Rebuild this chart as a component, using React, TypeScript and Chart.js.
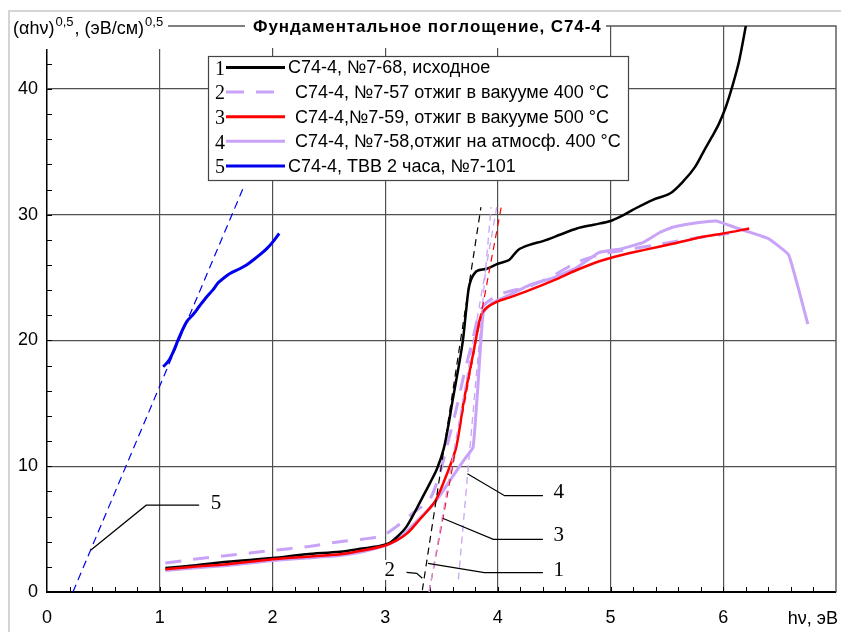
import React, { useEffect, useRef } from 'react';
import { Chart, registerables } from 'chart.js';
Chart.register(...registerables);

// ---- data ----
const c1X = [1.05,1.3,1.6,2.0,2.3,2.6,2.8,2.95,3.04,3.12,3.19,3.26,3.33,3.4,3.46,3.52,3.56,3.6,3.65,3.69,3.72,3.75,3.81,3.9,4.0,4.1,4.18,4.28,4.4,4.55,4.7,4.85,5.0,5.1,5.2,5.38,5.53,5.65,5.75,5.83,5.9,5.96,6.02,6.08,6.14,6.2];
const c1Y = [1.9,2.1,2.4,2.7,3.0,3.2,3.45,3.65,3.9,4.5,5.2,6.3,7.5,8.7,9.8,11.4,13.2,15.3,17.8,20.0,22.5,24.5,25.5,25.7,26.1,26.4,27.2,27.6,27.9,28.4,28.9,29.2,29.5,29.9,30.4,31.2,31.7,32.7,33.8,35.1,36.2,37.2,38.5,40.2,42.2,45];

const c2X = [1.05,1.3,1.6,2.0,2.3,2.6,2.8,2.98,3.1,3.25,3.39,3.47,3.54,3.63,3.7,3.77,3.84,3.9,4.0,4.1,4.28,4.5,4.7,4.9,5.0,5.2,5.4,5.6,5.8,6.05];
const c2Y = [2.3,2.6,2.9,3.3,3.6,4.0,4.2,4.5,5.2,6.3,7.3,9.0,11.3,14.5,17.3,19.8,22.3,23.0,23.6,23.9,24.3,25.2,26.2,26.8,27.0,27.3,27.6,27.9,28.2,28.5];

const c3X = [1.05,1.3,1.6,2.0,2.3,2.6,2.8,3.0,3.1,3.2,3.3,3.38,3.45,3.54,3.63,3.7,3.78,3.85,3.9,4.0,4.1,4.28,4.5,4.7,4.9,5.1,5.3,5.56,5.8,6.0,6.23];
const c3Y = [1.8,2.0,2.2,2.6,2.8,3.0,3.3,3.7,4.1,4.7,5.7,6.5,7.3,9.2,11.5,15.3,18.9,22.0,22.6,23.1,23.4,24.0,24.8,25.6,26.3,26.8,27.2,27.7,28.2,28.5,28.9];

const c4X = [1.05,1.3,1.6,2.0,2.3,2.6,2.8,3.0,3.1,3.2,3.3,3.4,3.48,3.6,3.7,3.78,3.82,3.87,3.95,4.1,4.28,4.5,4.7,4.9,5.1,5.29,5.44,5.55,5.8,5.94,6.1,6.4,6.58,6.75];
const c4Y = [1.7,1.9,2.1,2.5,2.7,2.9,3.2,3.7,4.1,4.9,5.8,6.7,7.6,9.2,10.5,11.5,16.0,22.2,23.0,23.6,24.4,25.0,25.8,27.0,27.3,27.8,28.6,29.0,29.4,29.5,29.0,28.1,26.8,21.3];

const c5X = [1.03,1.08,1.12,1.18,1.24,1.3,1.35,1.41,1.47,1.52,1.56,1.62,1.71,1.77,1.83,1.9,1.95,2.0,2.06];
const c5Y = [17.9,18.4,19.1,20.4,21.5,22.1,22.7,23.4,24.0,24.6,24.9,25.3,25.7,26.0,26.4,26.9,27.3,27.8,28.5];

// tangent (extrapolation) lines: [x0, y0, x1, y1]
const t1 = [3.33, 0.15, 3.85, 30.6];
const t2 = [3.39, 0, 3.99, 30.6];
const t3 = [3.39, 0, 4.03, 30.6];
const t4 = [3.65, 1.0, 3.94, 30.6];
const t5 = [0.23, 0, 1.74, 32.1];

// callouts: polyline points (x,y pairs) + label position
const callNames = ['5', '4', '3', '1', '2'];
const callLines = [
  [0.39, 3.34, 0.88, 6.9, 1.35, 6.9],
  [3.73, 9.4, 4.06, 7.66, 4.40, 7.66],
  [3.51, 5.86, 3.96, 4.19, 4.40, 4.19],
  [3.38, 2.28, 3.88, 1.54, 4.40, 1.54],
  [3.19, 1.56, 3.28, 1.48, 3.33, 1.09],
];
const callLabelX = [1.5, 4.54, 4.54, 4.54, 3.04];
const callLabelY = [7.0, 7.9, 4.5, 1.75, 1.75];

const legendNums = ['1', '2', '3', '4', '5'];
const legendTexts = [
  'С74-4, №7-68, исходное',
  'С74-4, №7-57 отжиг в вакууме 400 °C',
  'С74-4,№7-59, отжиг в вакууме 500 °C',
  'С74-4, №7-58,отжиг на атмосф. 400 °C',
  'С74-4, ТВВ 2 часа, №7-101',
];
const xTickValues = [0, 1, 2, 3, 4, 5, 6];
const titleText = 'Фундаментальное поглощение, С74-4';
const xTitle = 'hν, эВ';

const BLACK = '#000000';
const LILAC = '#c9a3f7';
const RED = '#ff0000';
const BLUE = '#0000ee';
const legendColors = [BLACK, LILAC, RED, LILAC, BLUE];
const legendDash = [[], [18, 12], [], [], []];

const pts = (xs: number[], ys: number[]) => xs.map((x, i) => ({ x, y: ys[i] }));
const seg = (t: number[]) => [{ x: t[0], y: t[1] }, { x: t[2], y: t[3] }];

const SANS = '"Liberation Sans", Arial, sans-serif';
const SERIF = '"Liberation Serif", "Times New Roman", serif';

const decor = {
  id: 'decor',
  beforeDraw(chart: any) {
    const ctx = chart.ctx;
    ctx.save();
    ctx.fillStyle = '#fff';
    ctx.fillRect(0, 0, chart.width, chart.height);
    ctx.strokeStyle = '#d4d4d4';
    ctx.lineWidth = 2;
    ctx.beginPath();
    ctx.moveTo(9, chart.height + 5);
    ctx.lineTo(9, 11);
    ctx.lineTo(chart.width + 5, 11);
    ctx.stroke();
    ctx.restore();
  },
  beforeDatasetsDraw(chart: any) {
    const ctx = chart.ctx;
    const a = chart.chartArea;
    const xs = chart.scales.x;
    const ys = chart.scales.y;
    ctx.save();
    ctx.strokeStyle = '#555';
    ctx.lineWidth = 1.4;
    ctx.beginPath();
    ctx.moveTo(a.left, a.top);
    ctx.lineTo(a.right, a.top);
    ctx.lineTo(a.right, a.bottom);
    ctx.stroke();
    ctx.strokeStyle = '#000';
    ctx.lineWidth = 1;
    ctx.beginPath();
    for (let i = 1; i < 35; i++) {
      const v = i * 0.2;
      const px = Math.round(xs.getPixelForValue(v)) + 0.5;
      ctx.moveTo(px, a.bottom);
      ctx.lineTo(px, a.bottom - 5);
    }
    for (let i = 1; i < 23; i++) {
      const v = i * 2;
      const py = Math.round(ys.getPixelForValue(v)) + 0.5;
      ctx.moveTo(a.left, py);
      ctx.lineTo(a.left + 5, py);
    }
    ctx.stroke();
    ctx.restore();
  },
  afterDatasetsDraw(chart: any) {
    const ctx = chart.ctx;
    const xs = chart.scales.x;
    const ys = chart.scales.y;
    const X = (v: number) => xs.getPixelForValue(v);
    const Y = (v: number) => ys.getPixelForValue(v);
    ctx.save();
    ctx.strokeStyle = '#000';
    ctx.lineWidth = 1.2;
    callLines.forEach((l, k) => {
      ctx.beginPath();
      for (let i = 0; i < l.length; i += 2) {
        const px = X(l[i]), py = Y(l[i + 1]);
        if (i === 0) ctx.moveTo(px, py); else ctx.lineTo(px, py);
      }
      ctx.stroke();
      ctx.font = '21px ' + SERIF;
      ctx.textAlign = 'center';
      ctx.textBaseline = 'middle';
      const lx = X(callLabelX[k]), ly = Y(callLabelY[k]);
      if (callNames[k] === '2') {
        ctx.fillStyle = '#fff';
        ctx.fillRect(lx - 7, ly - 10, 14, 20);
      }
      ctx.fillStyle = '#000';
      ctx.fillText(callNames[k], lx, ly);
    });

    // legend
    const bx = 208, by = 56, bw = 420, bh = 124;
    ctx.fillStyle = '#fff';
    ctx.fillRect(bx, by, bw, bh);
    ctx.strokeStyle = '#444';
    ctx.lineWidth = 1.2;
    ctx.strokeRect(bx + 0.5, by + 0.5, bw, bh);
    legendTexts.forEach((t, i) => {
      const cy = 67.5 + i * 24.6;
      ctx.fillStyle = '#000';
      ctx.font = '20px ' + SERIF;
      ctx.textAlign = 'center';
      ctx.textBaseline = 'middle';
      ctx.fillText(legendNums[i], 220, cy + 2);
      ctx.strokeStyle = legendColors[i];
      ctx.lineWidth = 3;
      ctx.setLineDash(legendDash[i]);
      ctx.beginPath();
      ctx.moveTo(226, cy);
      ctx.lineTo(285, cy);
      ctx.stroke();
      ctx.setLineDash([]);
      ctx.font = '18px ' + SANS;
      ctx.textAlign = 'left';
      const tx = (i === 0 || i === 4) ? 288 : 295;
      ctx.fillText(t, tx, cy + 1);
    });

    // title & y title boxes
    ctx.fillStyle = '#fff';
    ctx.fillRect(11, 12, 157, 37);
    ctx.fillRect(245, 12, 361, 36);

    ctx.fillStyle = '#000';
    ctx.textBaseline = 'alphabetic';
    ctx.textAlign = 'left';
    ctx.font = 'bold 17px ' + SANS;
    const w0 = ctx.measureText(titleText).width;
    const target = 347;
    const ls = (target - w0) / (titleText.length - 1);
    let cx = 253;
    for (const ch of titleText) {
      ctx.fillText(ch, cx, 32);
      cx += ctx.measureText(ch).width + ls;
    }

    // y axis title: (αhν)^0,5, (эВ/см)^0,5
    const parts: [string, boolean][] = [['(αhν)', false], ['0,5', true], [', (эВ/см)', false], ['0,5', true]];
    let px = 13;
    parts.forEach(([s, sup]) => {
      ctx.font = (sup ? '13px ' : '18px ') + SANS;
      ctx.fillText(s, px + (sup ? 1 : 0), sup ? 26 : 34);
      px += ctx.measureText(s).width + (sup ? 2 : 0);
    });

    // x axis title
    ctx.font = '18px ' + SANS;
    ctx.textAlign = 'right';
    ctx.fillText(xTitle, 838, 624);
    ctx.restore();
  },
};

export default function App() {
  const ref = useRef<HTMLCanvasElement | null>(null);
  useEffect(() => {
    if (!ref.current) return;
    const lineDs = (label: string, data: any[], color: string, width: number, dash: number[], order: number, tension = 0.3) => ({
      label, data, borderColor: color, backgroundColor: color, borderWidth: width, borderDash: dash,
      showLine: true, pointRadius: 0, pointHoverRadius: 0, tension, fill: false, order,
    });
    const chart = new Chart(ref.current, {
      type: 'scatter',
      data: {
        datasets: [
          lineDs('t1', seg(t1), BLACK, 1.2, [7, 5], 1),
          lineDs('t2', seg(t2), LILAC, 1.3, [7, 5], 1),
          lineDs('t3', seg(t3), RED, 1.2, [7, 5], 1),
          lineDs('t4', seg(t4), LILAC, 1.3, [7, 5], 1),
          lineDs('t5', seg(t5), BLUE, 1.2, [8, 5], 1),
          lineDs('5', pts(c5X, c5Y), BLUE, 3, [], 2),
          lineDs('3', pts(c3X, c3Y), RED, 2.5, [], 3),
          lineDs('1', pts(c1X, c1Y), BLACK, 2.5, [], 4),
          lineDs('2', pts(c2X, c2Y), LILAC, 3, [16, 12], 5),
          lineDs('4', pts(c4X, c4Y), LILAC, 3, [], 6, 0.1),
        ],
      },
      options: {
        responsive: false,
        animation: false,
        layout: { padding: { top: 26, right: 5, left: 0, bottom: 0 } },
        plugins: { legend: { display: false }, tooltip: { enabled: false }, title: { display: false } },
        scales: {
          x: {
            type: 'linear', min: 0, max: 7,
            afterFit: (s: any) => { s.height = 40; s.paddingRight = 0; s.paddingLeft = 0; },
            ticks: {
              stepSize: 1, color: '#000', padding: 15, font: { size: 18, family: SANS },
              callback: (v: any) => (xTickValues.includes(Number(v)) ? String(v) : ''),
            },
            grid: {
              drawTicks: false, lineWidth: 1.2,
              color: (c: any) => (c.tick && (c.tick.value === 0 || c.tick.value === 7) ? 'rgba(0,0,0,0)' : '#505050'),
            },
            border: { display: true, color: '#000', width: 2 },
          },
          y: {
            type: 'linear', min: 0, max: 45,
            afterFit: (s: any) => { s.width = 47; s.paddingTop = 0; s.paddingBottom = 0; },
            ticks: { stepSize: 10, includeBounds: false, color: '#000', padding: 9, font: { size: 18, family: SANS } },
            grid: {
              drawTicks: false, lineWidth: 1.2,
              color: (c: any) => (c.tick && c.tick.value === 0 ? 'rgba(0,0,0,0)' : '#505050'),
            },
            border: { display: true, color: '#000', width: 1.5 },
          },
        },
      },
      plugins: [decor],
    } as any);
    return () => chart.destroy();
  }, []);
  return (
    <div style={{ position: 'fixed', left: 0, top: 0, width: 841, height: 632 }}>
      <canvas ref={ref} width={841} height={632} style={{ display: 'block', width: 841, height: 632 }} />
    </div>
  );
}
